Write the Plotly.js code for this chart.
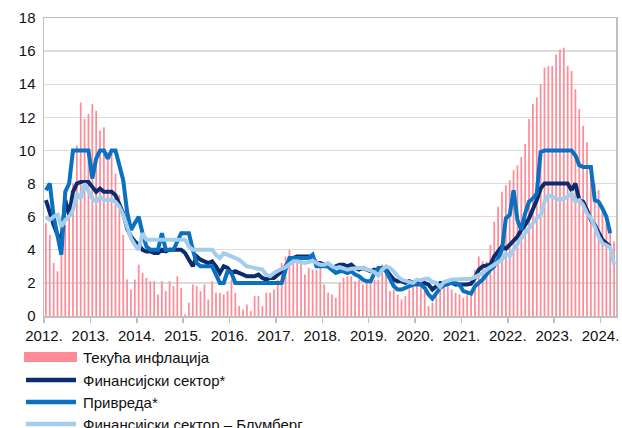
<!DOCTYPE html>
<html>
<head>
<meta charset="utf-8">
<script src="https://cdn.plot.ly/plotly-3.0.1.min.js"></script>
<style>html,body{margin:0;padding:0;background:#fff;}#chart{width:622px;height:428px;}</style>
</head>
<body>
<div id="chart"></div>
<script>
// Monthly data, Jan 2012 – Apr 2024
const yearLabels = ["2012.","2013.","2014.","2015.","2016.","2017.","2018.","2019.","2020.","2021.","2022.","2023.","2024."];

const inflation = [
5.6,4.9,3.2,2.7,3.9,5.5,6.1,8.0,10.3,12.9,11.9,12.2,
12.8,12.4,11.2,11.4,9.9,9.8,8.6,7.3,4.9,2.2,1.6,2.2,
3.1,2.6,2.3,2.1,2.1,1.3,2.1,1.5,2.1,1.8,2.4,1.7,
0.1,0.8,1.9,1.8,1.5,1.9,1.0,2.1,1.4,1.4,1.3,1.5,
2.2,1.4,0.6,0.4,0.7,0.3,1.2,1.2,0.6,1.4,1.4,1.6,
2.2,3.2,3.6,4.0,3.5,3.5,3.2,2.5,2.9,2.8,2.8,3.0,
1.9,1.4,1.3,1.1,2.0,2.3,2.4,2.4,2.1,2.2,1.9,2.0,
2.1,2.2,2.2,3.1,2.8,1.5,1.6,1.3,1.0,1.2,1.6,1.8,
1.9,1.8,1.5,0.6,0.8,1.2,1.6,1.8,1.8,1.6,1.4,1.3,
1.1,1.3,1.4,2.8,3.6,3.3,3.3,4.3,5.7,6.6,7.5,7.9,
8.2,8.8,9.1,9.6,10.4,11.9,12.8,13.2,14.0,15.0,15.1,15.1,
15.8,16.1,16.2,15.1,14.8,13.7,12.5,11.5,10.5,8.6,8.0,7.6,
6.4,5.6,5.0,4.5
];

const finSector = [
7.0,6.2,5.5,4.9,4.6,7.0,6.1,7.5,8.0,8.1,8.1,8.1,
7.8,7.5,7.7,7.5,7.5,7.5,7.3,6.8,6.2,5.3,4.8,4.5,
4.3,4.0,3.9,3.9,3.8,3.8,4.0,3.9,4.0,4.0,4.0,4.0,
3.8,3.4,3.0,3.6,3.4,3.3,3.2,3.3,3.0,2.6,3.0,2.9,
2.6,2.7,2.6,2.5,2.4,2.4,2.4,2.5,2.3,2.2,2.3,2.3,
2.5,2.7,3.0,3.3,3.5,3.6,3.6,3.6,3.6,3.5,3.2,3.2,
3.1,3.0,2.8,3.0,3.1,3.1,3.0,3.1,2.9,2.8,2.9,2.8,
2.7,2.8,2.7,2.9,2.8,2.5,2.2,2.1,2.1,2.0,2.1,2.0,
2.1,2.0,2.0,1.9,1.6,1.8,2.0,2.0,2.0,2.0,1.9,1.9,
1.85,1.9,1.95,2.3,2.8,3.0,3.05,3.1,3.6,3.9,4.2,4.05,
4.3,4.5,4.8,5.2,5.5,5.9,6.4,7.0,7.7,8.0,8.0,8.0,
8.0,8.0,8.0,8.0,7.6,8.0,7.0,6.9,6.4,5.8,5.5,5.1,
4.6,4.4,4.2,null
];

const economy = [
7.6,8.0,6.0,4.8,3.7,7.5,8.0,10,10,10,10,10,
8.3,9.5,10,10,9.5,10,10,9.2,8.2,6.3,5.2,5.6,
6.0,5.0,4.2,4.0,4.0,4.0,5.0,4.0,4.0,4.0,4.5,5.0,
5.0,5.0,4.0,3.2,3.0,3.0,3.0,3.0,2.5,2.0,2.0,2.7,
2.6,2.0,2.0,2.0,2.0,2.0,2.0,2.0,2.0,2.0,2.0,2.0,
2.0,2.0,2.8,3.5,3.5,3.5,3.5,3.5,3.5,3.7,3.0,3.0,
3.0,3.0,2.8,2.6,2.7,2.7,2.6,2.7,2.5,2.4,2.2,2.1,
2.1,2.6,2.9,2.9,2.7,2.2,1.8,1.6,1.6,1.7,1.8,1.9,
1.9,1.9,1.7,1.3,1.05,1.4,1.7,1.85,1.95,2.0,2.0,1.9,
1.5,1.45,1.35,1.8,2.0,2.2,2.5,2.8,3.0,3.5,4.0,5.9,
6.1,7.6,5.8,5.2,6.2,6.9,7.1,7.4,9.9,10,10,10,
10,10,10,10,10,9.7,9.1,9.0,9.0,9.0,7.0,6.9,
6.5,6.0,5.0,null
];

const bloomberg = [
6.0,5.8,6.0,6.1,5.4,5.8,6.0,6.4,7.4,7.1,8.0,7.6,
7.1,6.9,7.2,7.0,7.0,7.0,6.9,6.6,6.1,5.4,4.7,4.3,
4.0,5.0,4.6,4.6,4.6,4.6,4.6,4.6,4.6,4.6,4.6,4.6,
4.6,4.2,4.0,4.0,4.0,4.0,4.0,4.0,3.7,3.5,3.8,3.7,
3.6,3.5,3.4,3.2,3.0,2.95,2.9,2.85,2.8,2.5,2.4,2.6,
2.75,2.85,2.95,3.1,3.3,3.3,3.25,3.2,3.25,3.35,3.2,3.1,
3.1,3.2,3.0,2.9,2.95,2.9,2.8,2.85,2.9,2.9,2.9,2.8,
2.75,2.65,2.45,2.8,3.0,2.9,2.7,2.4,2.2,2.1,2.05,2.0,
2.2,2.15,2.25,2.25,2.05,2.0,1.75,2.05,2.15,2.2,2.2,2.2,
2.2,2.2,2.25,2.35,2.45,2.6,2.8,2.95,3.1,3.2,3.4,3.8,
3.6,4.0,4.4,4.7,5.0,5.3,5.6,5.9,6.1,6.9,7.3,7.2,
7.1,7.0,7.1,7.2,7.4,6.9,7.0,6.7,6.2,5.9,5.4,4.8,
4.4,4.25,4.15,3.1
];

const seriesNames = ["Текућа инфлација","Финансијски сектор*","Привреда*","Финансијски сектор – Блумберг"];
const colors = {pink:"#FF8B97", navy:"#0B2D6F", blue:"#0A70C2", light:"#A3CDEC"};

const idx = inflation.map((_, i) => i);
const tickVals = yearLabels.map((_, k) => k * 12 - 0.5);

const FONT = "Liberation Sans, Arial, sans-serif";

const traces = [
  {type:"bar", x: idx, y: inflation, name: seriesNames[0], marker:{color: colors.pink}, hoverinfo:"skip"},
  {type:"scatter", mode:"lines", x: idx, y: finSector, name: seriesNames[1], line:{color: colors.navy, width:4}, hoverinfo:"skip"},
  {type:"scatter", mode:"lines", x: idx, y: economy, name: seriesNames[2], line:{color: colors.blue, width:4}, hoverinfo:"skip"},
  {type:"scatter", mode:"lines", x: idx, y: bloomberg, name: seriesNames[3], line:{color: colors.light, width:4}, hoverinfo:"skip"}
];

// custom legend (pixel -> paper helpers)
const L = 44, T = 18, W = 572, H = 298;
const px = v => (v - L) / W;
const py = v => (T + H - v) / H;
const rows = [357, 380, 402, 424];
const shapes = [
  {type:"rect", xref:"paper", yref:"paper", x0:px(24), x1:px(77), y0:py(362), y1:py(352), fillcolor:colors.pink, line:{width:0}},
  {type:"line", xref:"paper", yref:"paper", x0:px(26), x1:px(76), y0:py(rows[1]), y1:py(rows[1]), line:{color:colors.navy, width:4.5}},
  {type:"line", xref:"paper", yref:"paper", x0:px(26), x1:px(76), y0:py(rows[2]), y1:py(rows[2]), line:{color:colors.blue, width:4.5}},
  {type:"line", xref:"paper", yref:"paper", x0:px(26), x1:px(76), y0:py(rows[3]), y1:py(rows[3]), line:{color:colors.light, width:4.5}}
];
const annotations = seriesNames.map((t, k) => ({
  text: t, xref:"paper", yref:"paper", x: px(81), y: py(rows[k]), xanchor:"left", yanchor:"middle",
  showarrow:false, font:{family: FONT, size:15, color:"#111"}
}));

const layout = {
  width:622, height:428,
  margin:{l:L, r:622-L-W, t:T, b:428-T-H},
  paper_bgcolor:"#fff", plot_bgcolor:"#fff",
  showlegend:false,
  bargap:0.55,
  font:{family: FONT, size:15, color:"#111"},
  xaxis:{
    range:[-0.5, inflation.length - 0.5], tickmode:"array", tickvals: tickVals, ticktext: yearLabels,
    ticks:"outside", ticklen:5, tickcolor:"#BFBFBF", tickwidth:1.5,
    showgrid:false, zeroline:false, showline:true, mirror:true, linecolor:"#BFBFBF", linewidth:1.5,
    tickfont:{family: FONT, size:15, color:"#111"}
  },
  yaxis:{
    range:[0,18], dtick:2, tick0:0, ticks:"outside", ticklen:4, tickcolor:"rgba(0,0,0,0)",
    showgrid:true, gridcolor:"#DCDCDC", gridwidth:1.3, zeroline:false,
    showline:true, mirror:true, linecolor:"#BFBFBF", linewidth:1.5,
    tickfont:{family: FONT, size:15, color:"#111"}
  },
  shapes: shapes,
  annotations: annotations
};

Plotly.newPlot("chart", traces, layout, {displayModeBar:false, staticPlot:true});
</script>
</body>
</html>
